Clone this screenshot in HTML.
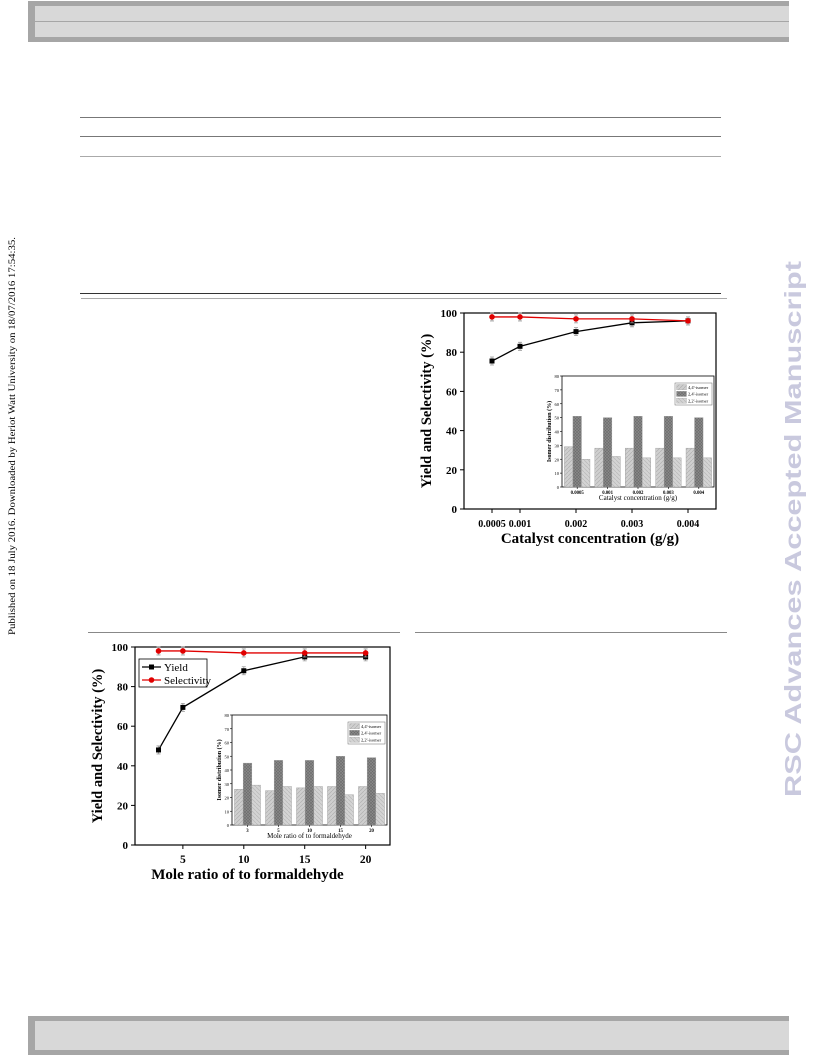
<!DOCTYPE html>
<html><head><meta charset="utf-8"><style>
html,body{margin:0;padding:0;background:#fff;}
body{width:816px;height:1056px;position:relative;overflow:hidden;font-family:"Liberation Serif",serif;}
.abs{position:absolute;}
</style></head><body>
<div class="abs" style="left:28px;top:1px;width:761px;height:41px;background:#a6a6a6;"></div>
<div class="abs" style="left:35px;top:6px;width:754px;height:31px;background:#d8d8d8;"></div>
<div class="abs" style="left:35px;top:21px;width:754px;height:1px;background:#a6a6a6;"></div>
<div class="abs" style="left:28px;top:1016px;width:761px;height:39px;background:#a6a6a6;"></div>
<div class="abs" style="left:35px;top:1021px;width:754px;height:29px;background:#d8d8d8;"></div>
<div class="abs" style="left:80px;top:117px;width:641px;height:1px;background:#777;"></div>
<div class="abs" style="left:80px;top:136px;width:641px;height:1px;background:#777;"></div>
<div class="abs" style="left:80px;top:156px;width:641px;height:1px;background:#aaa;"></div>
<div class="abs" style="left:80px;top:293px;width:641px;height:1px;background:#333;"></div>
<div class="abs" style="left:81px;top:298px;width:646px;height:1px;background:#aaa;"></div>
<div class="abs" style="left:88px;top:632px;width:312px;height:1px;background:#888;"></div>
<div class="abs" style="left:415px;top:632px;width:312px;height:1px;background:#888;"></div>
<svg class="abs" style="left:0;top:0" width="816" height="1056">
<text transform="translate(15,635) rotate(-90)" font-family="Liberation Serif, serif" font-size="9" textLength="398" lengthAdjust="spacingAndGlyphs">Published on 18 July 2016. Downloaded by Heriot Watt University on 18/07/2016 17:54:35.</text>
<text transform="translate(801,797) rotate(-90)" font-family="Liberation Sans, sans-serif" font-weight="bold" font-size="23" fill="#c9c9de" textLength="536" lengthAdjust="spacingAndGlyphs">RSC Advances Accepted Manuscript</text>
</svg>
<svg id="c1" class="abs" style="left:400px;top:300px" width="340" height="250"></svg>
<svg id="c2" class="abs" style="left:80px;top:635px" width="330" height="250"></svg>
<script>
const cat1X=[0.0005,0.001,0.002,0.003,0.004];
const cat1XLabels=["0.0005","0.001","0.002","0.003","0.004"];
const cat1Yield=[75.5,83,90.5,95,96];
const cat1Sel=[98,98,97,97,96];
const cat1Iso44=[29,28,28,28,28];
const cat1Iso24=[51,50,51,51,50];
const cat1Iso22=[20,22,21,21,21];
const mol2X=[3,5,10,15,20];
const mol2XTicks=[5,10,15,20];
const mol2Yield=[48,69.5,88,95,95];
const mol2Sel=[98,98,97,97,97];
const mol2IsoLabels=["3","5","10","15","20"];
const mol2Iso44=[26,25,27,28,28];
const mol2Iso24=[45,47,47,50,49];
const mol2Iso22=[29,28,28,22,23];
const yTicks=[0,20,40,60,80,100];
const insetYTicks=[0,10,20,30,40,50,60,70,80];
const NS="http://www.w3.org/2000/svg";
function mk(p,tag,a,txt){const e=document.createElementNS(NS,tag);for(const k in a)e.setAttribute(k,a[k]);if(txt!==undefined)e.textContent=txt;p.appendChild(e);return e;}
function defs(svg,id){const d=mk(svg,'defs',{});
 const p1=mk(d,'pattern',{id:id+'h1',width:4,height:4,patternUnits:'userSpaceOnUse'});mk(p1,'rect',{width:4,height:4,fill:'#cfcfcf'});mk(p1,'path',{d:'M0,4L4,0',stroke:'#b0b0b0','stroke-width':0.7});
 const p2=mk(d,'pattern',{id:id+'h2',width:3,height:3,patternUnits:'userSpaceOnUse'});mk(p2,'rect',{width:3,height:3,fill:'#8a8a8a'});mk(p2,'path',{d:'M0,0L3,3M3,0L0,3',stroke:'#6a6a6a','stroke-width':0.6});
 const p3=mk(d,'pattern',{id:id+'h3',width:4,height:4,patternUnits:'userSpaceOnUse'});mk(p3,'rect',{width:4,height:4,fill:'#d4d4d4'});mk(p3,'path',{d:'M0,0L4,4',stroke:'#b8b8b8','stroke-width':0.7});
}
function chart(svg,o){
 const id=svg.id;defs(svg,id);
 const L=o.L,R=o.R,T=o.T,B=o.B;
 const xs=v=>L+(v-o.x0)/(o.x1-o.x0)*(R-L);
 const ys=v=>B-v/100*(B-T);
 const g=mk(svg,'g',{});
 
 
 mk(g,'rect',{x:L,y:T,width:R-L,height:B-T,fill:'none',stroke:'#000','stroke-width':1.2});
 yTicks.forEach(t=>{const y=ys(t);mk(g,'line',{x1:L-4,x2:L,y1:y,y2:y,stroke:'#000'});
  const tl=mk(g,'text',{x:L-7,y:y+4,'text-anchor':'end','font-size':11,'font-weight':'bold'},t);
  
  });
 o.xt.forEach((t,i)=>{const x=xs(t);mk(g,'line',{x1:x,x2:x,y1:B,y2:B+4,stroke:'#000'});
  const tl=mk(g,'text',{x:x,y:B+18,'text-anchor':'middle','font-size':o.xfs,'font-weight':'bold'},o.xl[i]);
  
  });
 const xt=mk(g,'text',{x:(L+R)/2+o.xtOff,y:B+34,'text-anchor':'middle','font-size':15,'font-weight':'bold'},o.xTitle);
 
 
 const yt=mk(g,'text',{transform:`translate(${L-33},${(T+B)/2}) rotate(-90)`,'text-anchor':'middle','font-size':14.5,'font-weight':'bold'},'Yield and Selectivity (%)');
 
 
 [[o.yld,'#000','rect','yield'],[o.sel,'#e00000','circle','selectivity']].forEach(([vals,c,m,nm])=>{
  const pts=vals.map((v,i)=>[xs(o.x[i]),ys(v)]);
  const ln=mk(g,'polyline',{points:pts.map(p=>p.join(',')).join(' '),fill:'none',stroke:c,'stroke-width':1.3});
  
  
  pts.forEach(p=>{mk(g,'path',{d:`M${p[0]},${p[1]-4}V${p[1]+4}M${p[0]-2},${p[1]-4}h4M${p[0]-2},${p[1]+4}h4`,stroke:'#999','stroke-width':0.8});
   let e;if(m==='rect')e=mk(g,'rect',{x:p[0]-2.5,y:p[1]-2.5,width:5,height:5,fill:c});else e=mk(g,'circle',{cx:p[0],cy:p[1],r:2.8,fill:c});
   
   });
 });
 if(o.legend){const lg=mk(g,'g',{});
  
  
  const lx=o.legend[0],ly=o.legend[1];
  mk(lg,'rect',{x:lx,y:ly,width:68,height:28,fill:'#fff',stroke:'#000','stroke-width':0.8});
  mk(lg,'line',{x1:lx+3,x2:lx+22,y1:ly+8,y2:ly+8,stroke:'#000','stroke-width':1.3});mk(lg,'rect',{x:lx+10,y:ly+5.5,width:5,height:5});
  mk(lg,'text',{x:lx+25,y:ly+12,'font-size':11},'Yield');
  mk(lg,'line',{x1:lx+3,x2:lx+22,y1:ly+21,y2:ly+21,stroke:'#e00000','stroke-width':1.3});mk(lg,'circle',{cx:lx+12.5,cy:ly+21,r:2.8,fill:'#e00000'});
  mk(lg,'text',{x:lx+25,y:ly+25,'font-size':11},'Selectivity');}
 const I=o.inset,il=I.L,ir=I.R,it=I.T,ib=I.B;
 const ig=mk(svg,'g',{});
 
 
 mk(ig,'rect',{x:il,y:it,width:ir-il,height:ib-it,fill:'#fff',stroke:'#000','stroke-width':0.8});
 const iy=v=>ib-v/80*(ib-it);
 insetYTicks.forEach(t=>{mk(ig,'line',{x1:il-2,x2:il,y1:iy(t),y2:iy(t),stroke:'#000','stroke-width':0.6});mk(ig,'text',{x:il-3,y:iy(t)+2,'text-anchor':'end','font-size':4.5},t);});
 const n=I.labels.length,gw=(ir-il)/n,bw=gw*0.28;
 const sers=[[I.a,'h1','4,4\'-isomer'],[I.b,'h2','2,4\'-isomer'],[I.c,'h3','2,2\'-isomer']];
 I.labels.forEach((lab,i)=>{const cx=il+gw*(i+0.5);
  sers.forEach(([vals,pat],k)=>{const b=mk(ig,'rect',{x:cx+(k-1.5)*bw,y:iy(vals[i]),width:bw,height:ib-iy(vals[i]),fill:`url(#${id}${pat})`,stroke:'#999','stroke-width':0.4});
   
   });
  mk(ig,'line',{x1:cx,x2:cx,y1:ib,y2:ib+2,stroke:'#000','stroke-width':0.6});
  mk(ig,'text',{x:cx,y:ib+7,'text-anchor':'middle','font-size':4.8,'font-weight':'bold'},lab);});
 mk(ig,'text',{x:(il+ir)/2,y:ib+13,'text-anchor':'middle','font-size':7},I.title);
 mk(ig,'text',{transform:`translate(${il-11},${(it+ib)/2}) rotate(-90)`,'text-anchor':'middle','font-size':6,'font-weight':'bold'},'Isomer distribution (%)');
 const lx=ir-39,ly=it+7;mk(ig,'rect',{x:lx,y:ly,width:37,height:22,fill:'#fff',stroke:'#666','stroke-width':0.5});
 sers.forEach(([v,pat,nm],k)=>{mk(ig,'rect',{x:lx+1.5,y:ly+1.5+k*6.8,width:10,height:5.2,fill:`url(#${id}${pat})`,stroke:'#999','stroke-width':0.3});mk(ig,'text',{x:lx+13,y:ly+5.8+k*6.8,'font-size':4.5},nm);});
}
chart(document.getElementById('c1'),{L:64,R:316,T:13,B:209,x0:0,x1:0.0045,x:cat1X,xt:cat1X,xl:cat1XLabels,xfs:10,yld:cat1Yield,sel:cat1Sel,xTitle:'Catalyst concentration (g/g)',xtOff:0,
 inset:{L:162,R:314,T:76,B:187,labels:cat1XLabels,a:cat1Iso44,b:cat1Iso24,c:cat1Iso22,title:'Catalyst concentration (g/g)'}});
chart(document.getElementById('c2'),{L:55,R:310,T:12,B:210,x0:1.07,x1:22,x:mol2X,xt:mol2XTicks,xl:mol2XTicks.map(String),xfs:11.5,yld:mol2Yield,sel:mol2Sel,xTitle:'Mole ratio of to formaldehyde',xtOff:-15,legend:[59,24],
 inset:{L:152,R:307,T:80,B:190,labels:mol2IsoLabels,a:mol2Iso44,b:mol2Iso24,c:mol2Iso22,title:'Mole ratio of to formaldehyde'}});
</script>
</body></html>
